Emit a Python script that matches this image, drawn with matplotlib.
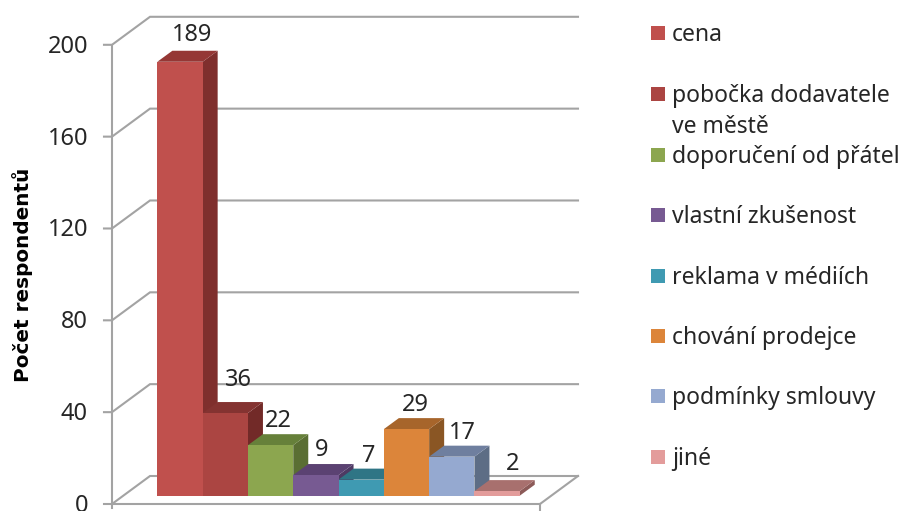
import matplotlib
matplotlib.use("Agg")
import matplotlib.pyplot as plt
from matplotlib.patches import Polygon, Rectangle

plt.rcParams['font.family'] = ['Noto Sans', 'DejaVu Sans']

categories = ["cena", "pobočka dodavatele\nve městě", "doporučení od přátel",
              "vlastní zkušenost", "reklama v médiích", "chování prodejce",
              "podmínky smlouvy", "jiné"]
values = [189, 36, 22, 9, 7, 29, 17, 2]
y_ticks = [0, 40, 80, 120, 160, 200]
front_colors = ["#C0504D", "#AB4542", "#8CA64F", "#775A92", "#3F9AB2", "#DC853A", "#95A9D0", "#E39C9B"]
top_colors = ["#953735", "#843331", "#66803A", "#5B4272", "#2F7585", "#A7652B", "#6F7F9F", "#A8706E"]
side_colors = ["#7F2F2D", "#722A28", "#5A6E33", "#4E3A63", "#296575", "#8A5624", "#5D6D85", "#8C5A58"]

W, H = 904, 511
PX_PER_CAT = 45.3
PX_PER_VAL = 2.296
X0 = 180.0      # pixel x of category 0
Y0 = 495.7      # pixel y of value 0 at the bars' front

fig = plt.figure(figsize=(W / 100, H / 100), dpi=100)
ax = fig.add_axes([0, 0, 1, 1])
ax.set_xlim(-X0 / PX_PER_CAT, (W - X0) / PX_PER_CAT)
ax.set_ylim((Y0 - H) / PX_PER_VAL, Y0 / PX_PER_VAL)
ax.axis("off")

dxc = lambda px: px / PX_PER_CAT
dyv = lambda px: px / PX_PER_VAL

# box geometry expressed in data units
left = dxc(112 - X0)
right = dxc(540 - X0)
front_base = dyv(Y0 - 504)
wall_dx, wall_dy = dxc(38), dyv(28)
depth_dx, depth_dy = dxc(15), dyv(11)
GRID = "#A3A3A3"
LW = 1.5
TEXT = "#262626"

for t in y_ticks:
    y = front_base + t
    ax.plot([left - dxc(8), left, left + wall_dx, right + wall_dx],
            [y, y, y + wall_dy, y + wall_dy], color=GRID, lw=LW, zorder=1,
            solid_joinstyle="miter")
    ax.text(left - dxc(24), y - dyv(2), str(t), ha="right", va="center",
            fontsize=17, color=TEXT, clip_on=False)
# vertical axis, front floor edge and its end tick
ax.plot([left, left], [front_base - dyv(4), front_base + y_ticks[-1]], color=GRID, lw=LW, zorder=1)
ax.plot([left, right], [front_base, front_base], color=GRID, lw=LW, zorder=1)
ax.plot([right, right], [front_base - dyv(8), front_base], color=GRID, lw=LW, zorder=1)
ax.plot([right, right + wall_dx], [front_base, front_base + wall_dy], color=GRID, lw=LW, zorder=1)

# bars
x_pos = list(range(len(values)))
bars = ax.bar(x_pos, values, width=1.0, color=front_colors, linewidth=0, zorder=4)
label_dx = [12, 13, 8, 6, 7, 9, 11, 16]
label_dy = [16, 22, 13, 14, 13, 13, 13, 16]
for i, (x, v) in enumerate(zip(x_pos, values)):
    a, b = x - 0.5, x + 0.5
    ax.add_patch(Polygon([(b, 0), (b + depth_dx, depth_dy), (b + depth_dx, v + depth_dy), (b, v)],
                         closed=True, fc=side_colors[i], ec="none", zorder=2 + i * 0.01))
    ax.add_patch(Polygon([(a, v), (a + depth_dx, v + depth_dy), (b + depth_dx, v + depth_dy), (b, v)],
                         closed=True, fc=top_colors[i], ec="none", zorder=2 + i * 0.01))
    ax.annotate(str(v), (x, v + depth_dy), xytext=(label_dx[i], label_dy[i]),
                textcoords="offset pixels", ha="center", va="center",
                fontsize=17, color=TEXT, zorder=6)

# y axis title
ax.text(dxc(23 - X0), dyv(Y0 - 275), "Počet respondentů", rotation=90, ha="center", va="center",
        fontsize=14.4, fontweight="bold", color="black", family="DejaVu Sans")

# legend
leg_y = [33, 94, 155, 215, 276, 336, 396, 457]
for i, (name, py) in enumerate(zip(categories, leg_y)):
    ax.add_patch(Rectangle((dxc(651 - X0), dyv(Y0 - py - 7)), dxc(14), dyv(14),
                           fc=front_colors[i], ec="none", zorder=5))
    for j, line in enumerate(name.split("\n")):
        ax.text(dxc(672 - X0), dyv(Y0 - py - 31 * j - 2), line, ha="left", va="center",
                fontsize=16.5, color=TEXT)

fig.savefig("out.png", dpi=100)
